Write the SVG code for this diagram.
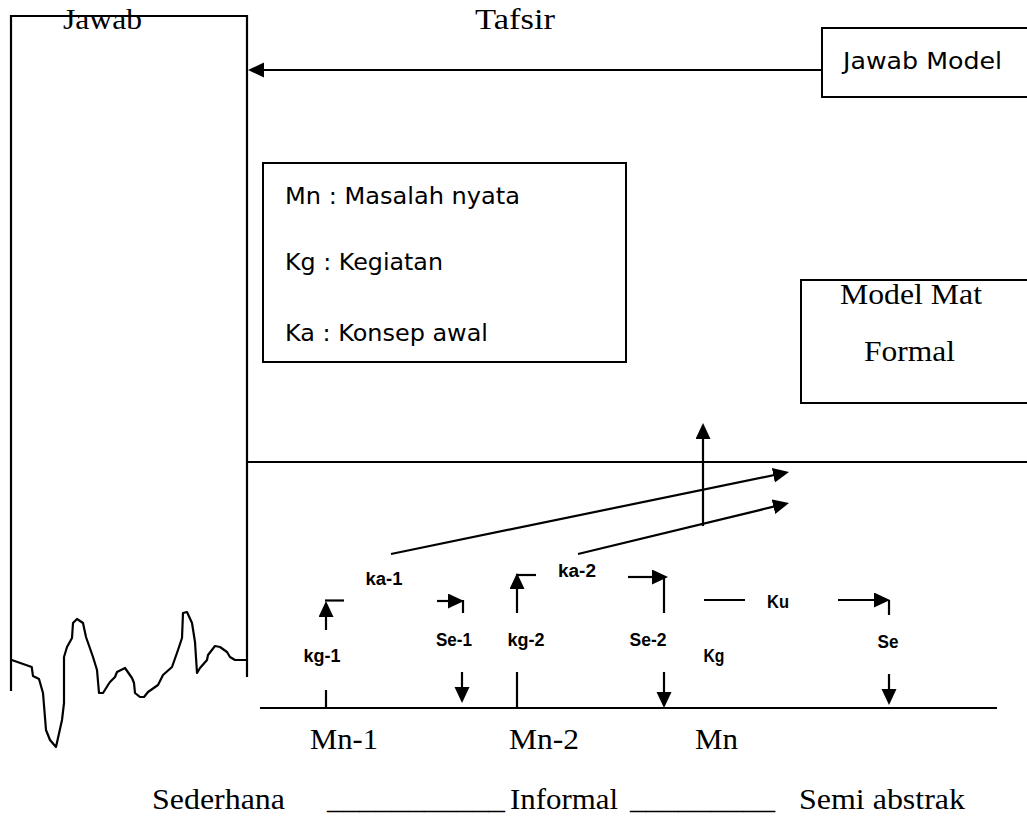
<svg xmlns="http://www.w3.org/2000/svg" width="1027" height="818" viewBox="0 0 1027 818">
<style>
.ln{stroke:#000;stroke-width:2.2;fill:none}
.bx{stroke:#000;stroke-width:2;fill:#fff}
.ser{font-family:"Liberation Serif","Times New Roman",serif;font-size:29px;fill:#000}
.cmc{font-family:"DejaVu Sans","Noto Sans",sans-serif;font-size:23px;fill:#000}
.lbl{font-family:"Liberation Sans",Arial,sans-serif;font-size:18px;font-weight:bold;fill:#000}
</style>
<defs>
<marker id="ah" markerUnits="userSpaceOnUse" markerWidth="17" markerHeight="16" refX="6" refY="7.5" orient="auto">
<path d="M0,0 L16,7.5 L0,15 z" fill="#000"/>
</marker>
</defs>
<rect width="1027" height="818" fill="#fff"/>

<g id="jawab">
<path class="ln" d="M11,691 V16 H247 V677"/>
<path class="ln" d="M11.7,660 L31.7,667 L33,676 L39,679 L43,693 L46,730 L50,740 L56,747 L62,720 L64,703 L64,657 L67,647 L72,638 L73,623 L77,619 L83,623 L86,637 L93,657 L97,670 L99,693 L103,693 L108,685 L110,682 L115,677 L117,672 L125,668 L132,678 L134,683 L135,693 L140,697 L144,697 L148,692 L158,685 L163,675 L172,667 L178,650 L182,638 L183,613 L187,612 L192,623 L195,642 L197,673 L200,668 L207,660 L208,655 L215,646 L220,647 L227,652 L230,657 L235,660 L247,660" stroke-linejoin="round"/>
<text class="ser" x="63" y="29" textLength="79" lengthAdjust="spacingAndGlyphs">Jawab</text>
</g>

<g id="tafsir">
<text class="ser" x="475" y="29" textLength="80" lengthAdjust="spacingAndGlyphs">Tafsir</text>
</g>

<g id="jawab-model">
<path class="bx" d="M1030,28 H822 V97 H1030"/>
<text class="cmc" x="843" y="69" textLength="159" lengthAdjust="spacingAndGlyphs">Jawab Model</text>
</g>

<g id="legend">
<rect class="bx" x="263" y="163" width="363" height="199"/>
<text class="cmc" x="285" y="204" textLength="235" lengthAdjust="spacingAndGlyphs">Mn : Masalah nyata</text>
<text class="cmc" x="285" y="270" textLength="158" lengthAdjust="spacingAndGlyphs">Kg : Kegiatan</text>
<text class="cmc" x="285" y="341" textLength="203" lengthAdjust="spacingAndGlyphs">Ka : Konsep awal</text>
</g>

<g id="model-mat">
<path class="bx" d="M1030,280 H801 V403 H1030"/>
<text class="ser" x="840" y="304" textLength="142" lengthAdjust="spacingAndGlyphs">Model Mat</text>
<text class="ser" x="864" y="361" textLength="91" lengthAdjust="spacingAndGlyphs">Formal</text>
</g>

<g id="connectors">
<line class="ln" x1="822" y1="70" x2="258" y2="70" marker-end="url(#ah)"/>
<line class="ln" x1="247" y1="462" x2="1027" y2="462"/>
<line class="ln" x1="260" y1="708" x2="997" y2="708"/>
<line class="ln" x1="703" y1="526" x2="703" y2="433" marker-end="url(#ah)"/>
<line class="ln" x1="391" y1="554" x2="779.2" y2="474" marker-end="url(#ah)"/>
<line class="ln" x1="578" y1="554" x2="779.3" y2="505.3" marker-end="url(#ah)"/>
<line class="ln" x1="326" y1="630" x2="326" y2="611" marker-end="url(#ah)"/>
<line class="ln" x1="325" y1="600.5" x2="344" y2="600.5"/>
<line class="ln" x1="326" y1="690" x2="326" y2="708"/>
<line class="ln" x1="437" y1="601" x2="454" y2="601" marker-end="url(#ah)"/>
<line class="ln" x1="463" y1="600" x2="463" y2="613"/>
<line class="ln" x1="462" y1="672" x2="462" y2="693" marker-end="url(#ah)"/>
<line class="ln" x1="517" y1="613" x2="517" y2="583" marker-end="url(#ah)"/>
<line class="ln" x1="516" y1="575" x2="536" y2="575"/>
<line class="ln" x1="517" y1="672" x2="517" y2="708"/>
<line class="ln" x1="628" y1="577" x2="658" y2="577" marker-end="url(#ah)"/>
<line class="ln" x1="664" y1="577" x2="664" y2="613"/>
<line class="ln" x1="664" y1="672" x2="664" y2="698" marker-end="url(#ah)"/>
<line class="ln" x1="704" y1="600" x2="745" y2="600"/>
<line class="ln" x1="838" y1="600" x2="880" y2="600" marker-end="url(#ah)"/>
<line class="ln" x1="889" y1="600" x2="889" y2="615"/>
<line class="ln" x1="889" y1="674" x2="889" y2="695" marker-end="url(#ah)"/>
</g>

<g id="labels">
<text class="lbl" x="322" y="662" text-anchor="middle" textLength="37" lengthAdjust="spacingAndGlyphs">kg-1</text>
<text class="lbl" x="384" y="585" text-anchor="middle" textLength="37" lengthAdjust="spacingAndGlyphs">ka-1</text>
<text class="lbl" x="454" y="646" text-anchor="middle" textLength="36" lengthAdjust="spacingAndGlyphs">Se-1</text>
<text class="lbl" x="526" y="646" text-anchor="middle" textLength="37" lengthAdjust="spacingAndGlyphs">kg-2</text>
<text class="lbl" x="577" y="577" text-anchor="middle" textLength="38" lengthAdjust="spacingAndGlyphs">ka-2</text>
<text class="lbl" x="648" y="646" text-anchor="middle" textLength="37" lengthAdjust="spacingAndGlyphs">Se-2</text>
<text class="lbl" x="778" y="608" text-anchor="middle" textLength="22" lengthAdjust="spacingAndGlyphs">Ku</text>
<text class="lbl" x="714" y="662" text-anchor="middle" textLength="21" lengthAdjust="spacingAndGlyphs">Kg</text>
<text class="lbl" x="888" y="648" text-anchor="middle" textLength="21" lengthAdjust="spacingAndGlyphs">Se</text>
</g>

<g id="axis-labels">
<text class="ser" x="310" y="749" textLength="68" lengthAdjust="spacingAndGlyphs">Mn-1</text>
<text class="ser" x="509" y="749" textLength="70" lengthAdjust="spacingAndGlyphs">Mn-2</text>
<text class="ser" x="695" y="749" textLength="43" lengthAdjust="spacingAndGlyphs">Mn</text>
<text class="ser" x="152" y="809" textLength="133" lengthAdjust="spacingAndGlyphs">Sederhana</text>
<text class="ser" x="327" y="809" textLength="178" lengthAdjust="spacingAndGlyphs">___________</text>
<text class="ser" x="510" y="809" textLength="108" lengthAdjust="spacingAndGlyphs">Informal</text>
<text class="ser" x="630" y="809" textLength="145" lengthAdjust="spacingAndGlyphs">_________</text>
<text class="ser" x="799" y="809" textLength="166" lengthAdjust="spacingAndGlyphs">Semi abstrak</text>
</g>
</svg>
